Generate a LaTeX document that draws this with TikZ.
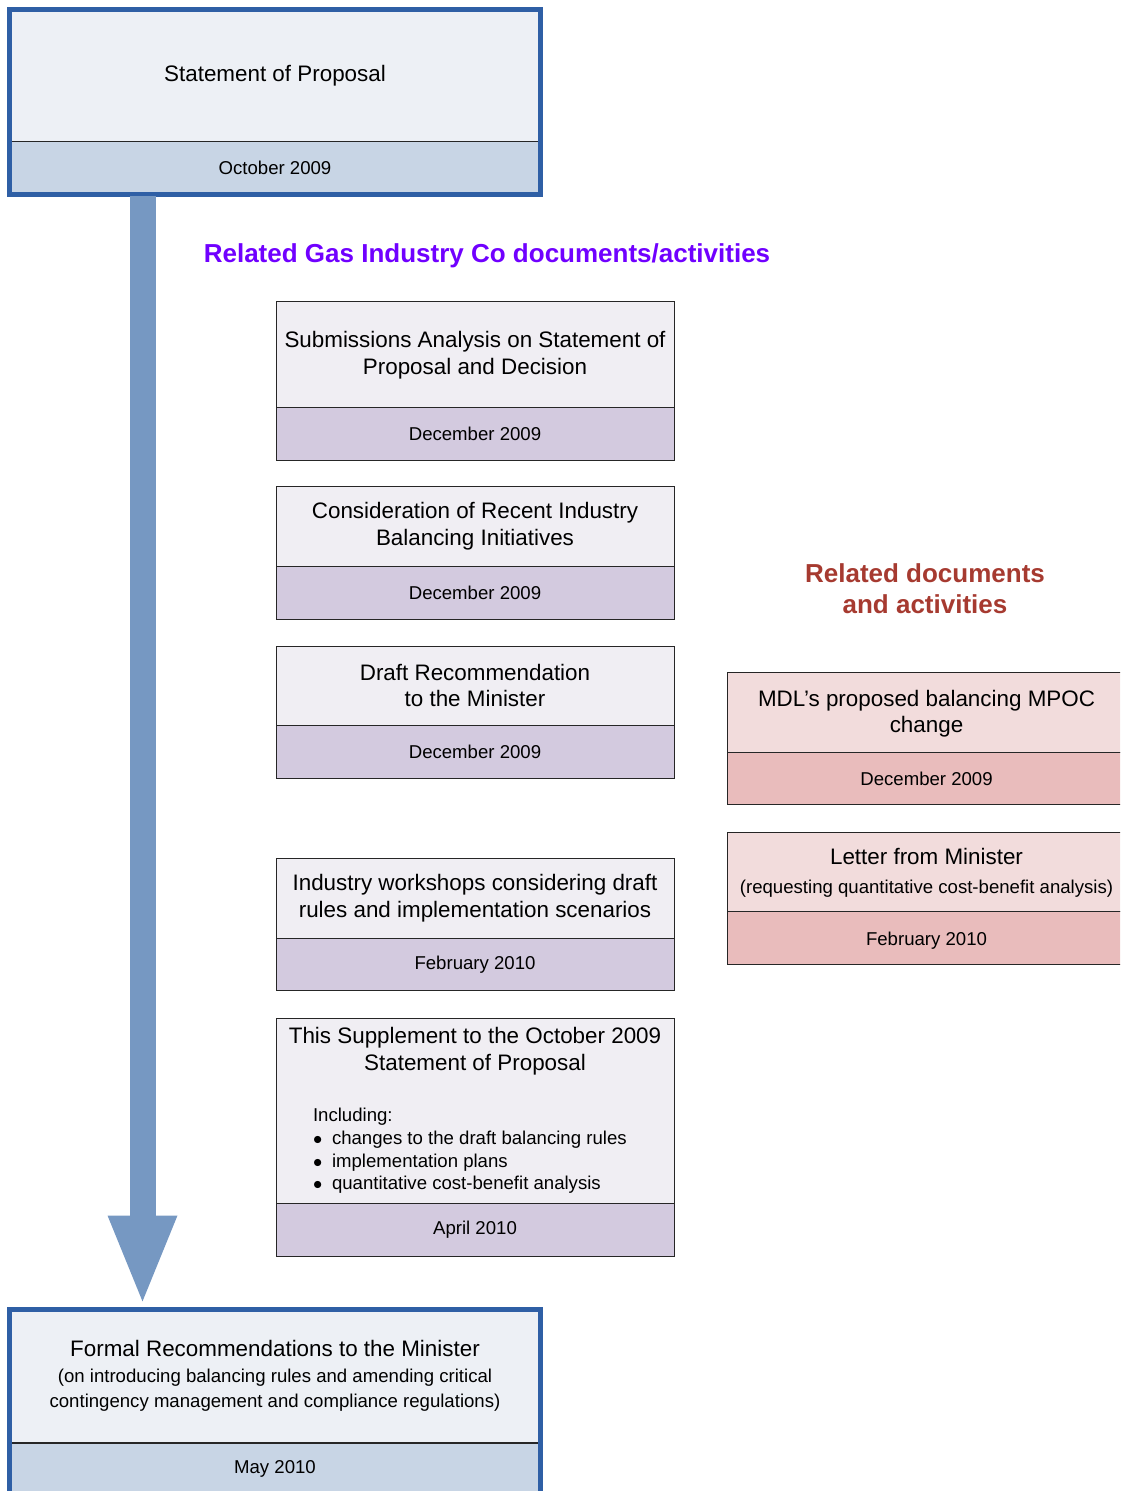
\documentclass[tikz,border=0pt]{standalone}
\usepackage{fontspec}
\usepackage{graphicx}
\setmainfont{Liberation Sans}
\usetikzlibrary{calc,arrows.meta}

\definecolor{frameblue}{HTML}{2F5FA5}
\definecolor{arrowblue}{HTML}{7698C2}
\definecolor{soppale}{HTML}{EDF0F5}
\definecolor{sopshade}{HTML}{C8D5E5}
\definecolor{gicpale}{HTML}{F0EEF3}
\definecolor{gicshade}{HTML}{D3CADF}
\definecolor{relpale}{HTML}{F2DCDC}
\definecolor{relshade}{HTML}{E9BCBC}
\definecolor{gicviolet}{HTML}{7000FF}
\definecolor{relred}{HTML}{A63A30}

\newcommand\boxtitlefont{\fontsize{11.2}{13.3}\selectfont}
\newcommand\boxsubfont{\fontsize{9.3}{12.5}\selectfont}
% right column boxes run off the page: text kept centred on the visible part
\newcommand\reltext[1]{\makebox[199pt]{\raisebox{-1pt}[\height][\depth]{\begin{tabular}{@{}c@{}}#1\end{tabular}}}\hspace*{16pt}}
\newcommand\listdot{\makebox[9.5pt][l]{$\bullet$}}

\tikzset{
  partbox/.style={draw=black!85, line width=0.5pt, inner sep=0pt, align=center},
  soptop/.style={partbox, fill=soppale, minimum width=265pt, minimum height=66pt, font=\boxtitlefont},
  sopdate/.style={partbox, fill=sopshade, minimum width=265pt, minimum height=26pt, font=\boxsubfont},
  sopframe/.style={draw=frameblue, line width=2.5pt},
  gictop/.style={partbox, fill=gicpale, minimum width=199pt, font=\boxtitlefont},
  gicdate/.style={partbox, fill=gicshade, minimum width=199pt, minimum height=26.5pt, font=\boxsubfont},
  reltop/.style={partbox, anchor=west, fill=relpale, minimum width=215pt, minimum height=40pt, font=\boxtitlefont},
  reldate/.style={partbox, anchor=west, fill=relshade, minimum width=215pt, minimum height=26.5pt, font=\boxsubfont},
  gichead/.style={text=gicviolet, font=\fontsize{13}{15.5}\selectfont\bfseries},
  relhead/.style={text=relred, align=center, font=\fontsize{13}{15.5}\selectfont\bfseries},
  flowarrow/.style={draw=arrowblue, line width=13pt, -{Triangle[width=31pt,length=45.5pt]}}
}

\begin{document}
\begin{tikzpicture}[x=0.5pt,y=-0.5pt]
  \useasboundingbox (0,0) rectangle (1120,1491);
  \clip (0,0) rectangle (1120,1491);

  %%%%% START %%%%%

  % statement of proposal
  \node[soptop] (soptitle) at (275,76) {Statement of Proposal};
  \node[sopdate] (sopdate) at (275,168) {October 2009};
  \draw[sopframe] (soptitle.north west) rectangle (sopdate.south east);

  % headings
  \node[gichead] (gichead) at (487,256) {Related Gas Industry Co documents/activities};
  \node[relhead] (relhead) at (925,589) {Related documents\\and activities};

  % Gas Industry Co documents
  \node[gictop, minimum height=53pt] (subtitle) at (475,355)
    {Submissions Analysis on Statement of\\Proposal and Decision};
  \node[gicdate] (subdate) at (475,434) {December 2009};

  \node[gictop, minimum height=39.5pt] (initititle) at (475,526.5)
    {Consideration of Recent Industry\\Balancing Initiatives};
  \node[gicdate] (initidate) at (475,593) {December 2009};

  \node[gictop, minimum height=39.5pt] (drafttitle) at (475,685.5)
    {Draft Recommendation\\to the Minister};
  \node[gicdate] (draftdate) at (475,752) {December 2009};

  \node[gictop, minimum height=40pt] (worktitle) at (475,898)
    {Industry workshops considering draft\\rules and implementation scenarios};
  \node[gicdate, minimum height=26pt] (workdate) at (475,964.5) {February 2010};

  \node[gictop, minimum height=92.5pt] (suptitle) at (475,1110.5)
    {\begin{minipage}{199pt}
       \centering This Supplement to the October 2009\\Statement of Proposal\par
       \vspace{14.5pt}
       {\raggedright\leftskip=18.5pt\fontsize{9.3}{11.35}\selectfont
        Including:\par
        \listdot changes to the draft balancing rules\par
        \listdot implementation plans\par
        \listdot quantitative cost-benefit analysis\par}
     \end{minipage}};
  \node[gicdate] (supdate) at (475,1230) {April 2010};

  % other related documents
  \node[reltop] (mdltitle) at (727,712) {\reltext{MDL’s proposed balancing MPOC\\change}};
  \node[reldate, minimum height=26pt] (mdldate) at (727,778.5) {\reltext{December 2009}};

  \node[reltop, minimum height=39.5pt] (lettitle) at (727,871.5)
    {\reltext{Letter from Minister\\[1.5pt]{\boxsubfont (requesting quantitative cost-benefit analysis)}}};
  \node[reldate] (letdate) at (727,938) {\reltext{February 2010}};

  % formal recommendations
  \node[soptop] (frmtitle) at (275,1376)
    {Formal Recommendations to the Minister\\[-0.5pt]
     {\boxsubfont (on introducing balancing rules and amending critical}\\[-0.5pt]
     {\boxsubfont contingency management and compliance regulations)}};
  \node[sopdate] (frmdate) at (275,1469) {May 2010};
  \draw[sopframe] (frmtitle.north west) rectangle (frmdate.south east);

  % timeline arrow
  \draw[flowarrow] ($(sopdate.south west)+(133,2)$) -- ($(frmtitle.north west)+(133,-3)$);

  %%%%% END %%%%%
\end{tikzpicture}
\end{document}
